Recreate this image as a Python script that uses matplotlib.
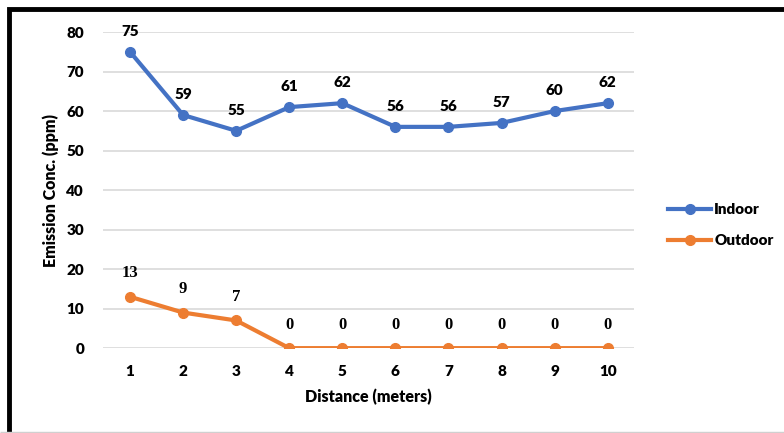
import matplotlib.pyplot as plt
from matplotlib.patches import Rectangle

distance = [1, 2, 3, 4, 5, 6, 7, 8, 9, 10]
indoor = [75, 59, 55, 61, 62, 56, 56, 57, 60, 62]
outdoor = [13, 9, 7, 0, 0, 0, 0, 0, 0, 0]
y_ticks = [0, 10, 20, 30, 40, 50, 60, 70, 80]

BLUE = "#4472C4"
ORANGE = "#ED7D31"
SANS = ["Lato", "DejaVu Sans"]
SERIF = ["Liberation Serif", "DejaVu Serif"]
W = "heavy"


def main():
    fig = plt.figure(figsize=(7.84, 4.33), dpi=100)
    ax = fig.add_axes([0.132, 0.196, 0.677, 0.730])

    ax.plot(distance, indoor, color=BLUE, lw=3, marker="o", ms=7, label="Indoor")
    ax.plot(distance, outdoor, color=ORANGE, lw=3, marker="o", ms=7, label="Outdoor")

    for x, y in zip(distance, indoor):
        ax.annotate(str(y), (x, y), xytext=(0, 10), textcoords="offset points",
                    ha="center", va="bottom", fontsize=11, fontweight=W,
                    family=SANS)
    for x, y in zip(distance, outdoor):
        ax.annotate(str(y), (x, y), xytext=(0, 11), textcoords="offset points",
                    ha="center", va="bottom", fontsize=12, fontweight="bold",
                    family=SERIF)

    ax.set_xlim(0.5, 10.5)
    ax.set_ylim(0, 80)
    ax.set_xticks(distance)
    ax.set_yticks(y_ticks)
    ax.tick_params(length=0, pad=12, labelsize=11)
    for lab in ax.get_xticklabels() + ax.get_yticklabels():
        lab.set_fontweight(W)
        lab.set_family(SANS)
    ax.tick_params(axis="y", pad=14)
    ax.grid(axis="y", color="#D9D9D9", lw=1.2)
    ax.set_axisbelow(True)
    for s in ax.spines.values():
        s.set_visible(False)

    ax.set_xlabel("Distance (meters)", fontsize=11.5, fontweight=W, family=SANS, labelpad=8)
    ax.set_ylabel("Emission Conc. (ppm)", fontsize=11.5, fontweight=W, family=SANS, labelpad=5)

    fig.legend(loc="center left", bbox_to_anchor=(0.835, 0.48), frameon=False,
               prop={"family": SANS, "weight": W, "size": 11},
               handlelength=2.8, labelspacing=1.2, handletextpad=0.2)

    # outer frame
    fig.patches.append(Rectangle((0.012, -0.01), 1.1, 0.99, transform=fig.transFigure,
                                 fill=False, ec="black", lw=3.5))
    fig.patches.append(Rectangle((0, 0.003), 1, 0.0, transform=fig.transFigure,
                                 fill=False, ec="#D0D0D0", lw=1))

    fig.savefig("out.png", dpi=100)


if __name__ == "__main__":
    main()
